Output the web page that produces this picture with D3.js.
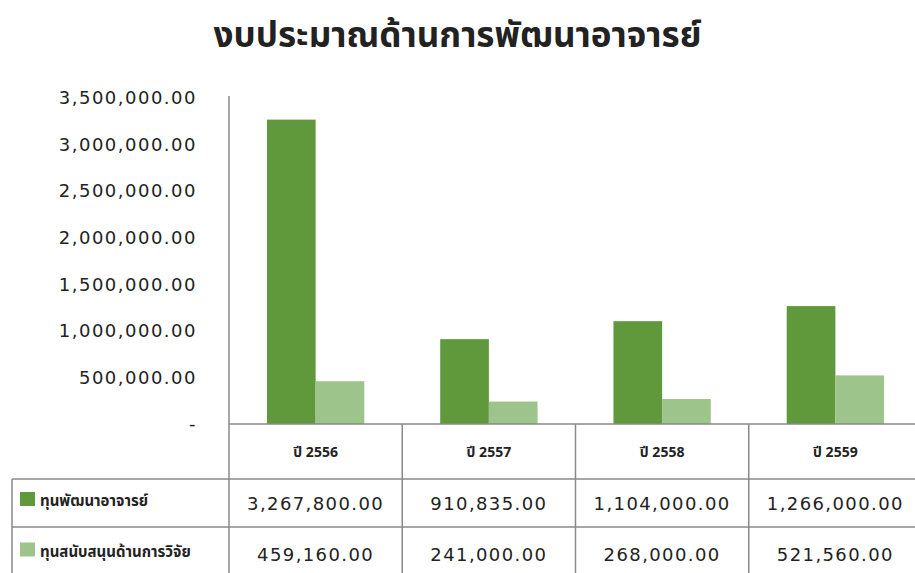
<!DOCTYPE html>
<html>
<head>
<meta charset="utf-8">
<script src="https://cdn.jsdelivr.net/npm/d3@7"></script>
<style>
  body { margin: 0; background: #fff; }
  svg text { font-family: "DejaVu Sans", sans-serif; fill: #222; }
  .thai { font-family: "Noto Sans Thai", "Loma", "Garuda", "Tlwg Typo", "DejaVu Sans", sans-serif; }
</style>
</head>
<body>
<div id="chart"></div>
<script>
// data
let title = 'งบประมาณด้านการพัฒนาอาจารย์'
let years = ['ปี 2556', 'ปี 2557', 'ปี 2558', 'ปี 2559']
let seriesNames = ['ทุนพัฒนาอาจารย์', 'ทุนสนับสนุนด้านการวิจัย']
let devFund = [3267800, 910835, 1104000, 1266000]
let researchFund = [459160, 241000, 268000, 521560]
let yTicks = [0, 500000, 1000000, 1500000, 2000000, 2500000, 3000000, 3500000]
let colors = ['#5f993b', '#9dc48a']

let width = 915, height = 573
let plot = {left: 229, right: 922, top: 98, bottom: 424}
let rowY = [424, 479, 527, 580]

let svg = d3.select('#chart').append('svg').attr('width', width).attr('height', height)

svg.append('text').attr('class', 'thai')
    .attr('x', width / 2).attr('y', 47)
    .attr('text-anchor', 'middle')
    .style('font-size', '35px').style('font-weight', 'bold')
    .text(title)

let rows = years.map((y, i) => ({year: y, values: [devFund[i], researchFund[i]]}))

let x = d3.scaleBand().domain(years).range([plot.left, plot.right]).padding(0)
let x1 = d3.scaleBand().domain(seriesNames).range([0, x.bandwidth()]).paddingInner(0).paddingOuter(0.78)
let y = d3.scaleLinear().domain([0, 3500000]).range([plot.bottom, plot.top])

// y axis labels
let fmt = d3.format(',.2f')
let yAxis = d3.axisLeft(y).tickValues(yTicks).tickSize(0).tickPadding(32)
    .tickFormat(d => d === 0 ? '-' : fmt(d))
let gy = svg.append('g').attr('transform', 'translate(' + plot.left + ',0)').call(yAxis)
gy.select('.domain').remove()
gy.selectAll('text').style('font-size', '18px').style('letter-spacing', '1.5px').style('fill', '#222')

// bars
let groups = svg.selectAll('.cat').data(rows).enter().append('g')
    .attr('transform', d => 'translate(' + x(d.year) + ',0)')
groups.selectAll('rect').data(d => d.values.map((v, i) => ({key: seriesNames[i], value: v, i: i})))
    .enter().append('rect')
    .attr('x', d => x1(d.key))
    .attr('width', x1.bandwidth())
    .attr('y', d => y(d.value))
    .attr('height', d => y(0) - y(d.value))
    .style('fill', d => colors[d.i])

// axis line
svg.append('line').attr('x1', plot.left).attr('x2', plot.left).attr('y1', plot.top - 2).attr('y2', rowY[3])
    .style('stroke', '#8a8a8a').style('stroke-width', 1.5)

// data table
let grid = svg.append('g').style('stroke', '#8a8a8a').style('stroke-width', 1.5)
grid.append('line').attr('x1', plot.left).attr('x2', width).attr('y1', rowY[0]).attr('y2', rowY[0])
grid.append('line').attr('x1', 12).attr('x2', width).attr('y1', rowY[1]).attr('y2', rowY[1])
grid.append('line').attr('x1', 12).attr('x2', width).attr('y1', rowY[2]).attr('y2', rowY[2])
grid.append('line').attr('x1', 12).attr('x2', 12).attr('y1', rowY[1]).attr('y2', rowY[3])
years.forEach(c => {
    grid.append('line').attr('x1', x(c) + x.bandwidth()).attr('x2', x(c) + x.bandwidth())
        .attr('y1', rowY[0]).attr('y2', rowY[3])
})

svg.selectAll('.hdr').data(years).enter().append('text').attr('class', 'thai')
    .attr('x', d => x(d) + x.bandwidth() / 2).attr('y', (rowY[0] + rowY[1]) / 2 + 5)
    .attr('text-anchor', 'middle')
    .style('font-size', '14px').style('font-weight', 'bold')
    .text(d => d)

let seriesData = [devFund, researchFund]
seriesData.forEach((vals, s) => {
    let cy = (rowY[s + 1] + rowY[s + 2]) / 2
    svg.append('rect').attr('x', 20).attr('y', cy - 11).attr('width', 15).attr('height', 14)
        .style('fill', colors[s])
    svg.append('text').attr('class', 'thai').attr('x', 40).attr('y', cy + 3)
        .style('font-size', '15px').style('font-weight', 'bold')
        .text(seriesNames[s])
    svg.selectAll('.v' + s).data(vals).enter().append('text')
        .attr('x', (d, i) => x(years[i]) + x.bandwidth() / 2).attr('y', cy + 7)
        .attr('text-anchor', 'middle')
        .style('font-size', '18px').style('letter-spacing', '1.4px')
        .text(d => fmt(d))
})
</script>
</body>
</html>
